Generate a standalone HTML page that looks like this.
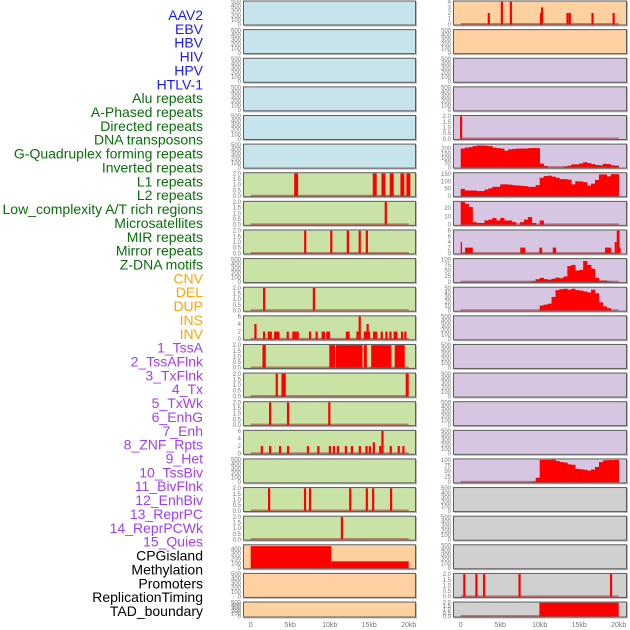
<!DOCTYPE html>
<html><head><meta charset="utf-8"><style>
html,body{margin:0;padding:0;background:#fff;width:630px;height:630px;overflow:hidden}
svg{display:block}
</style></head><body>
<svg id="chart" width="630" height="630" xmlns="http://www.w3.org/2000/svg" font-family="Liberation Sans, sans-serif"></svg>
<script>
// ---- category labels ----
const labels = ["AAV2","EBV","HBV","HIV","HPV","HTLV-1","Alu repeats","A-Phased repeats","Directed repeats","DNA transposons","G-Quadruplex forming repeats","Inverted repeats","L1 repeats","L2 repeats","Low_complexity A/T rich regions","Microsatellites","MIR repeats","Mirror repeats","Z-DNA motifs","CNV","DEL","DUP","INS","INV","1_TssA","2_TssAFlnk","3_TxFlnk","4_Tx","5_TxWk","6_EnhG","7_Enh","8_ZNF_Rpts","9_Het","10_TssBiv","11_BivFlnk","12_EnhBiv","13_ReprPC","14_ReprPCWk","15_Quies","CPGisland","Methylation","Promoters","ReplicationTiming","TAD_boundary"];
const labelGroups = [6,13,5,15,5];
const groupColors = ["#1a1aff","#0a6e0a","#ffa500","#a040f0","#000000"];
const xTicks = [0,5,10,15,20];
const xTickLabels = ["0","5kb","10kb","15kb","20kb"];
const emptyTicks = [0,100,200,300,400,500];
// ---- panel data (kb positions, values) ----
// left column
const L6_spikes = [[5.75,2],[15.7,2],[16.8,2],[17.85,2],[19.2,2],[19.96,2]];
const L7_spikes = [[17.1,2]];
const L8_spikes = [[6.9,2],[10.2,2],[12.3,2],[13.8,2],[14.7,2]];
const L10_spikes = [[1.7,2],[8.0,2]];
const L11_spikes = [[0.6,4],[1.70,2],[2.29,2],[2.54,2],[3.09,2],[3.30,2],[3.51,2],[4.69,2],[5.40,2],[5.66,2],[5.95,2],[7.51,2],[8.35,2],[9.11,2],[9.27,2],[9.70,2],[9.91,2],[12.18,2],[12.39,2],[13.52,2],[13.8,6],[14.45,2],[14.66,2],[14.8,4],[14.99,2],[15.63,2],[15.88,2],[16.59,2],[17.18,2],[17.69,2],[18.23,2],[18.44,2],[19.16,2],[19.58,2]];
const L12_blocks = [[1.49,1.91,2],[9.95,10.7,2],[10.79,14.15,2],[14.32,14.7,2],[15.25,17.81,2],[18.23,19.5,2]];
const L13_spikes = [[3.3,2],[4.16,2],[19.8,2]];
const L13_blocks = [[3.89,4.44,2],[19.62,20.0,2]];
const L14_spikes = [[2.46,2],[4.73,2],[9.95,2]];
const L15_spikes = [[1.41,2],[2.46,2],[3.72,2],[4.73,2],[7.25,2],[8.56,2],[10.03,2],[10.54,2],[11.04,2],[12.05,2],[12.81,2],[13.82,2],[14.66,2],[15.08,2],[15.59,3],[16.39,2],[16.68,6],[17.73,2],[18.74,2],[19.33,2]];
const L17_spikes = [[2.33,2],[6.88,2],[7.51,2],[12.6,2],[14.7,2],[15.5,2],[17.77,2]];
const L18_spikes = [[11.55,2]];
const L19_blocks = [[0,10.2,457],[10.2,20,140]];
// right column
const R0_spikes = [[3.56,2],[5.21,4],[6.35,4],[10.17,2],[10.3,3],[13.52,2],[13.81,2],[16.69,2],[19.36,2]];
const R4_spikes = [[0.05,2]];
const R5_bins = [200,210,215,226,232,232,230,226,210,205,200,177,192,196,200,200,200,205,206,205,40,15,0,0,0,0,10,18,32,32,42,55,45,35,25,22,38,35,22,18];
const R6_bins = [49,38,38,38,34,34,44,53,63,63,80,80,78,74,72,70,68,63,63,75,125,137,139,133,125,116,116,112,80,101,100,95,72,85,110,148,148,135,150,150];
const R7_bins = [29,25,21,3,2,2,5,6,8,5,8,5,5,3,0,3,6,9,2,0,5,0,0,0,0,0,0,0,0,0,0,0,0,0,0,0,0,0,0,0];
const R8_blocks = [[0,0.17,4],[0.55,1.53,2],[7.54,8.18,2],[9.96,10.3,2],[11.65,12.08,2],[18.26,19.07,2],[19.49,19.75,4],[19.75,20.1,8],[20.1,20.25,2]];
const R9_bins = [0,0,0,0,0,0,0,0,0,0,0,0,0,0,0,0,0,0,3,12,18,12,10,14,19,16,24,70,75,50,53,92,75,58,18,6,6,2,0,0];
const R10_bins = [0,0,0,0,0,0,0,0,0,0,0,0,0,0,0,0,0,0,0,0,11,13,15,30,45,47,48,46,48,45,44,42,40,46,38,18,9,5,0,0];
const R16_bins = [0,0,0,0,0,0,0,0,0,0,0,0,0,0,0,0,0,0,3,20,100,100,100,101,95,90,88,80,78,60,58,56,52,57,68,90,98,99,99,100];
const R20_spikes = [[0.46,2],[1.99,2],[2.96,2],[7.45,2],[19.03,2]];
const R21_blocks = [[9.96,20,2]];

const tk2 = [0,0.5,1,1.5,2];
const panels = [];
const bgL = i => i<6?"#c7e4ec":(i<19?"#c9e2a6":"#ffd1a0");
const bgR = i => i<2?"#ffd1a0":(i<17?"#d6c6e2":"#d0d0d0");
for(let r=0;r<22;r++){panels.push({col:0,row:r,bg:bgL(r),ymax:500,ticks:emptyTicks,dec:0});panels.push({col:1,row:r,bg:bgR(r),ymax:500,ticks:emptyTicks,dec:0});}
function P(c,r){return panels[r*2+c];}
function setP(c,r,o){Object.assign(P(c,r),o);}
setP(0,6,{ymax:2,ticks:tk2,dec:1,spikes:L6_spikes,sw:0.5});
setP(0,7,{ymax:2,ticks:tk2,dec:1,spikes:L7_spikes});
setP(0,8,{ymax:2,ticks:tk2,dec:1,spikes:L8_spikes});
setP(0,10,{ymax:2,ticks:tk2,dec:1,spikes:L10_spikes});
setP(0,11,{ymax:6,ticks:[0,2,4,6],dec:0,spikes:L11_spikes});
setP(0,12,{ymax:2,ticks:tk2,dec:1,blocks:L12_blocks});
setP(0,13,{ymax:2,ticks:tk2,dec:1,spikes:L13_spikes,blocks:L13_blocks});
setP(0,14,{ymax:2,ticks:tk2,dec:1,spikes:L14_spikes});
setP(0,15,{ymax:6,ticks:[0,2,4,6],dec:0,spikes:L15_spikes});
setP(0,17,{ymax:2,ticks:tk2,dec:1,spikes:L17_spikes});
setP(0,18,{ymax:2,ticks:tk2,dec:1,spikes:L18_spikes});
setP(0,19,{ymax:470,ticks:[0,100,200,300,400],dec:0,blocks:L19_blocks});
setP(1,0,{ymax:4,ticks:[0,1,2,3,4],dec:0,spikes:R0_spikes});
setP(1,4,{ymax:2,ticks:tk2,dec:1,spikes:R4_spikes});
setP(1,5,{ymax:240,ticks:[0,50,100,150,200],dec:0,bins:R5_bins});
setP(1,6,{ymax:155,ticks:[0,50,100,150],dec:0,bins:R6_bins});
setP(1,7,{ymax:27,ticks:[0,10,20],dec:0,bins:R7_bins});
setP(1,8,{ymax:8,ticks:[0,2,4,6,8],dec:0,blocks:R8_blocks});
setP(1,9,{ymax:100,ticks:[0,25,50,75,100],dec:0,bins:R9_bins});
setP(1,10,{ymax:50,ticks:[0,10,20,30,40,50],dec:0,bins:R10_bins});
setP(1,16,{ymax:101,ticks:[0,25,50,75,100],dec:0,bins:R16_bins});
setP(1,20,{ymax:2,ticks:tk2,dec:1,spikes:R20_spikes});
setP(1,21,{ymax:2,ticks:tk2,dec:1,blocks:R21_blocks});

const NS="http://www.w3.org/2000/svg";
const svg=document.getElementById('chart');
function el(tag,attrs,parent){const e=document.createElementNS(NS,tag);for(const k in attrs)e.setAttribute(k,attrs[k]);(parent||svg).appendChild(e);return e;}

// labels
let li=0;
labelGroups.forEach((n,g)=>{for(let k=0;k<n;k++){
  const t=el('text',{x:203,y:15+li*13.86+5,'text-anchor':'end','font-size':14,fill:groupColors[g]});
  
  
  t.textContent=labels[li];li++;}});

panels.forEach(p=>{
  const x0=p.col?453:243, w=p.col?174:173;
  const top=0.5+28.62*p.row, h=p.row===21?16:25;
  const xs=kb=>x0+7.7+kb*7.9;
  const y0=top+h-1.2, y1=top+1.2;
  const ys=v=>y0-(Math.min(v,p.ymax)/p.ymax)*(y0-y1);
  const g=el('g',{});
  
  
  el('rect',{x:x0+1,y:top+1,width:w,height:h,fill:'#bbb'},g);
  el('rect',{x:x0+0.5,y:top+0.5,width:w-1,height:h-1,fill:p.bg,stroke:'#5c5c5c','stroke-width':1},g);
  p.ticks.forEach(v=>{const t=el('text',{x:x0-2,y:ys(v)+2,'text-anchor':'end','font-size':6,fill:'#777'},g);
    
    t.textContent=p.dec?v.toFixed(1):String(v);});
  const has=p.spikes||p.blocks||p.bins;
  if(p.bins){const bw=20/p.bins.length;p.bins.forEach((v,i)=>{if(v<=0)return;
    const b=el('rect',{x:xs(i*bw),y:ys(v),width:xs((i+1)*bw)-xs(i*bw)+0.3,height:y0-ys(v),fill:'#ff0000'},g);
    });}
  if(p.blocks){p.blocks.forEach(d=>{
    const b=el('rect',{x:xs(d[0]),y:ys(d[2]),width:xs(d[1])-xs(d[0]),height:y0-ys(d[2]),fill:'#ff0000'},g);
    });}
  if(p.spikes){const sw=p.sw||0.28;p.spikes.forEach(d=>{
    const b=el('rect',{x:xs(d[0]-sw/2),y:ys(d[1]),width:xs(sw)-xs(0),height:y0-ys(d[1]),fill:'#ff0000'},g);
    });}
  if(has){const l=el('line',{x1:xs(0),x2:xs(20),y1:y0-0.5,y2:y0-0.5,stroke:'rgba(170,40,40,0.55)','stroke-width':1.6},g);
    }
  if(p.row===21){xTicks.forEach((v,i)=>{const t=el('text',{x:xs(v),y:627,'text-anchor':'middle','font-size':7,fill:'#777'},g);
    t.textContent=xTickLabels[i];});}
});
</script>
</body></html>
